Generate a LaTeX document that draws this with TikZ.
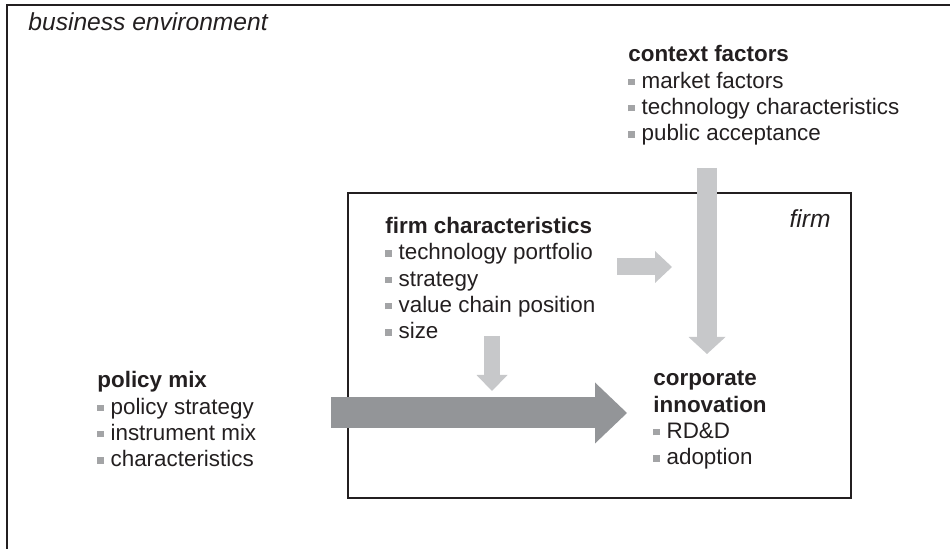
\documentclass[tikz,border=0pt]{standalone}
\usepackage{fontspec}
\setmainfont{Liberation Sans}
\usepackage{xcolor}
\usetikzlibrary{arrows.meta}
\definecolor{FigInk}{HTML}{231F20}
\definecolor{FigBullet}{HTML}{A3A4A6}
\definecolor{FigLight}{HTML}{C7C8CA}
\definecolor{FigDark}{HTML}{939598}
\newcommand{\bul}{{\color{FigBullet}\rule[1.6pt]{3.2pt}{3.2pt}}\hspace{3.4pt}}
\tikzset{
  frame/.style={
    draw=FigInk,
    line width=1.1pt
  },
  area/.style={
    font=\fontsize{12.3}{14}\selectfont\itshape,
    text=FigInk,
    inner sep=0pt
  },
  % blocks are placed by the baseline of their last line
  block/.style={
    font=\fontsize{11.2}{13.2}\selectfont,
    text=FigInk,
    align=left,
    inner sep=0pt,
    anchor=base west
  },
  influence/.style={
    draw=FigLight,
    line width=#1
  },
  policyflow/.style={
    draw=FigDark,
    line width=15.5pt,
    -{Triangle[length=16pt,width=30.5pt,line width=0pt]}
  }
}

\begin{document}
\begin{tikzpicture}[x=0.5pt,y=-0.5pt]
  \useasboundingbox (0,0) rectangle (950,549);

  % Outer business environment and the firm inside it
  \draw[frame] (950,5) -- (7,5) -- (7,549);
  \node[area,anchor=base west] (env) at (28,31) {business environment};
  \draw[frame,line width=1pt] (348,193) rectangle (851,498);
  \node[area,anchor=base east] (firm) at (831,228) {firm};

  % Text blocks
  \node[block] (context) at (628,141)
    {\textbf{context factors}\\
     \bul market factors\\
     \bul technology characteristics\\
     \bul public acceptance};
  \node[block] (firmchar) at (385,339)
    {\textbf{firm characteristics}\\
     \bul technology portfolio\\
     \bul strategy\\
     \bul value chain position\\
     \bul size};
  \node[block] (policy) at (97,467)
    {\textbf{policy mix}\\
     \bul policy strategy\\
     \bul instrument mix\\
     \bul characteristics};
  \node[block] (corp) at (653,465)
    {\textbf{corporate}\\
     \textbf{innovation}\\
     \bul RD\&D\\
     \bul adoption};

  % Arrow ends
  \coordinate (ctx-from) at (707,168);
  \coordinate (ctx-to) at (707,354);
  \coordinate (fc-from) at (617,267);
  \coordinate (fc-to) at (672,267);
  \coordinate (size-from) at (492,336);
  \coordinate (size-to) at (492,391);
  \coordinate (pol-from) at (331,413);
  \coordinate (pol-to) at (627,413);

  \draw[influence=9.75pt,-{Triangle[length=8.5pt,width=18.5pt,line width=0pt]}]
    (ctx-from) -- (ctx-to);
  \draw[influence=8.5pt,-{Triangle[length=8.5pt,width=16pt,line width=0pt]}]
    (fc-from) -- (fc-to);
  \draw[influence=8pt,-{Triangle[length=8pt,width=15.5pt,line width=0pt]}]
    (size-from) -- (size-to);
  \draw[policyflow] (pol-from) -- (pol-to);
\end{tikzpicture}
\end{document}
